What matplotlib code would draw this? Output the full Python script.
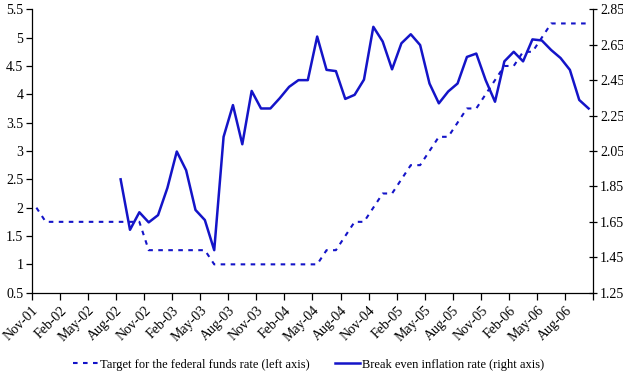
import matplotlib
matplotlib.use('Agg')
import matplotlib.pyplot as plt
import numpy as np

plt.rcParams['font.family'] = ['Liberation Serif', 'DejaVu Serif']

# monthly, Nov-01 .. Oct-06
months = ['Nov-01', 'Dec-01',
          'Jan-02', 'Feb-02', 'Mar-02', 'Apr-02', 'May-02', 'Jun-02',
          'Jul-02', 'Aug-02', 'Sep-02', 'Oct-02', 'Nov-02', 'Dec-02',
          'Jan-03', 'Feb-03', 'Mar-03', 'Apr-03', 'May-03', 'Jun-03',
          'Jul-03', 'Aug-03', 'Sep-03', 'Oct-03', 'Nov-03', 'Dec-03',
          'Jan-04', 'Feb-04', 'Mar-04', 'Apr-04', 'May-04', 'Jun-04',
          'Jul-04', 'Aug-04', 'Sep-04', 'Oct-04', 'Nov-04', 'Dec-04',
          'Jan-05', 'Feb-05', 'Mar-05', 'Apr-05', 'May-05', 'Jun-05',
          'Jul-05', 'Aug-05', 'Sep-05', 'Oct-05', 'Nov-05', 'Dec-05',
          'Jan-06', 'Feb-06', 'Mar-06', 'Apr-06', 'May-06', 'Jun-06',
          'Jul-06', 'Aug-06', 'Sep-06', 'Oct-06']

fed_funds = [2.0] + [1.75] * 11 + [1.25] * 7 + [1.0] * 12 + \
    [1.25, 1.25, 1.5, 1.75, 1.75, 2.0, 2.25, 2.25, 2.5, 2.75, 2.75,
     3.0, 3.25, 3.25, 3.5, 3.75, 3.75, 4.0, 4.25, 4.5, 4.5, 4.75, 4.75,
     5.0, 5.25, 5.25, 5.25, 5.25, 5.25]

# break even inflation starts Aug-02
breakeven_start = 9
breakeven = [1.89, 1.605, 1.704, 1.647, 1.688, 1.842, 2.047, 1.941, 1.717,
             1.66, 1.49, 2.13, 2.309, 2.088, 2.389, 2.29, 2.29, 2.348,
             2.412, 2.45, 2.45, 2.696, 2.508, 2.501, 2.344, 2.367, 2.453,
             2.751, 2.668, 2.511, 2.658, 2.709, 2.648, 2.431, 2.319,
             2.386, 2.431, 2.581, 2.6, 2.45, 2.328, 2.556, 2.61, 2.556,
             2.68, 2.674, 2.62, 2.575, 2.508, 2.338, 2.29]

tick_labels = months[::3] + ['']
left_ticks = np.arange(0.5, 5.51, 0.5)
right_ticks = np.arange(1.25, 2.851, 0.2)

BLUE = '#1414C8'

fig = plt.figure(figsize=(6.23, 3.82), dpi=100)
ax = fig.add_axes([0.0509, 0.2338, 0.9014, 0.7419])
ax2 = ax.twinx()

x = np.arange(len(months))
l1, = ax.plot(x, fed_funds, color=BLUE, lw=1.5, linestyle=(0, (2.2, 2.6)),
              label='Target for the federal funds rate (left axis)')
xb = np.arange(breakeven_start, breakeven_start + len(breakeven))
l2, = ax2.plot(xb, breakeven, color=BLUE, lw=1.8,
               label='Break even inflation rate (right axis)')

ax.set_xlim(-0.5, len(months) - 0.5)
ax.set_ylim(0.5, 5.5)
ax2.set_ylim(1.25, 2.85)
ax.set_yticks(left_ticks)
ax.set_yticklabels(['%g' % v for v in left_ticks])
ax2.set_yticks(right_ticks)
ax2.set_yticklabels(['%.2f' % v for v in right_ticks])

ax.set_xticks(np.arange(-0.5, len(months), 3))
ax.set_xticklabels(tick_labels, rotation=45, ha='right', rotation_mode='anchor')

for a in (ax, ax2):
    a.spines['top'].set_visible(False)
    for s in a.spines.values():
        s.set_linewidth(0.9)
ax.spines['right'].set_visible(False)
ax2.spines['left'].set_visible(False)
ax2.spines['bottom'].set_visible(False)

ax.tick_params(axis='y', direction='out', length=4, width=0.9, labelsize=10, pad=2)
ax.tick_params(axis='x', direction='out', length=5, width=0.9, labelsize=10, pad=3)
ax2.tick_params(axis='y', direction='inout', length=6, width=0.9, labelsize=10, pad=2)

fig.legend(handles=[l1, l2], loc='center', bbox_to_anchor=(0.495, 0.045),
           ncol=2, frameon=False, fontsize=9, handlelength=2.0,
           columnspacing=2.0, handletextpad=0.15)

fig.savefig('out.png', dpi=100)
